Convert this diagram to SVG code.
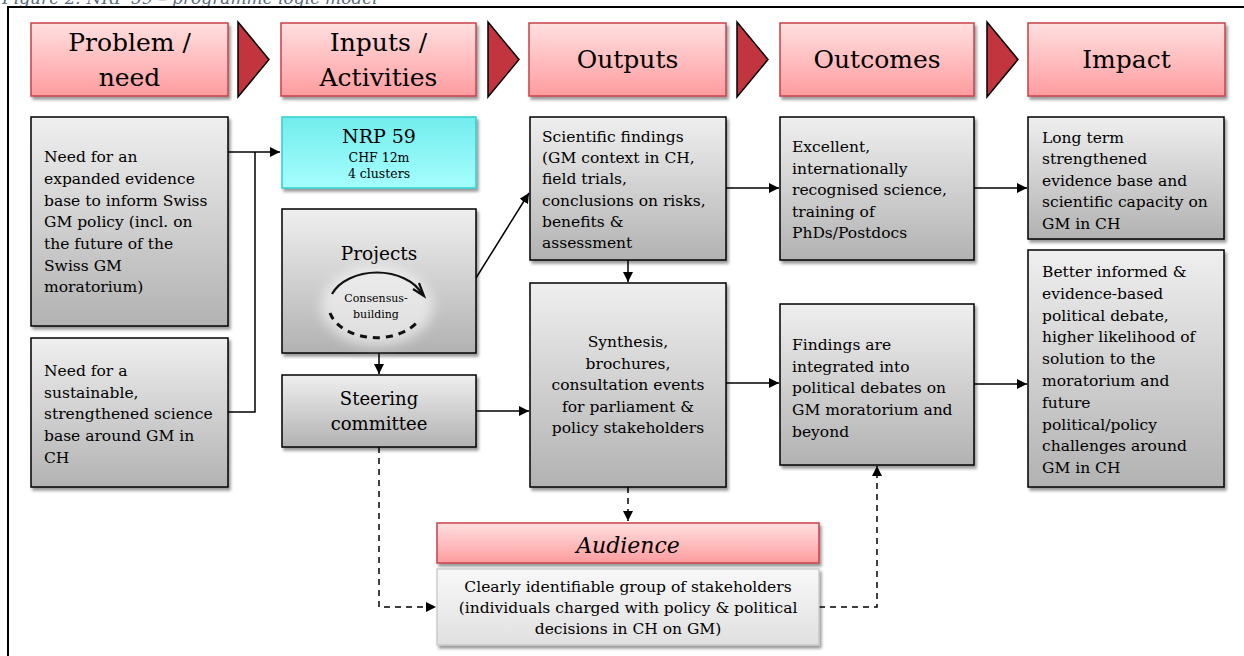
<svg xmlns="http://www.w3.org/2000/svg" width="1244" height="656" viewBox="0 0 1244 656">
  <defs>
    <linearGradient id="gHead" x1="0" y1="0" x2="0" y2="1">
      <stop offset="0" stop-color="#ffe0e0"/>
      <stop offset="1" stop-color="#ff9c9f"/>
    </linearGradient>
    <linearGradient id="gBox" x1="0" y1="0" x2="0" y2="1">
      <stop offset="0" stop-color="#efefef"/>
      <stop offset="1" stop-color="#b2b2b2"/>
    </linearGradient>
    <linearGradient id="gCyan" x1="0" y1="0" x2="0" y2="1">
      <stop offset="0" stop-color="#72ecec"/>
      <stop offset="1" stop-color="#a6fefe"/>
    </linearGradient>
    <linearGradient id="gLight" x1="0" y1="0" x2="0" y2="1">
      <stop offset="0" stop-color="#f8f8f8"/>
      <stop offset="1" stop-color="#e0e0e0"/>
    </linearGradient>
    <filter id="shadow" x="-10%" y="-10%" width="130%" height="130%">
      <feDropShadow dx="2" dy="3" stdDeviation="1.6" flood-color="#000" flood-opacity="0.4"/>
    </filter>
    <filter id="haze" x="-30%" y="-30%" width="160%" height="160%">
      <feGaussianBlur stdDeviation="6"/>
    </filter>
    <marker id="arr" viewBox="0 0 10 10" refX="10" refY="5" markerWidth="10" markerHeight="10" markerUnits="userSpaceOnUse" orient="auto">
      <path d="M0,0 L10,5 L0,10 z" fill="#000"/>
    </marker>
    <style>
      text { font-family: "DejaVu Serif", "Liberation Serif", serif; fill: #000; }
      .head { fill: url(#gHead); stroke: #c8424a; stroke-width: 1.5; filter: url(#shadow); }
      .ht { font-size: 25px; text-anchor: middle; }
      .chev { fill: #c2343e; stroke: #000; stroke-width: 1.5; stroke-linejoin: miter; }
      .box { fill: url(#gBox); stroke: #000; stroke-width: 1.5; filter: url(#shadow); }
      .bt { font-size: 15.5px; }
      .mid { text-anchor: middle; }
      .line { fill: none; stroke: #000; stroke-width: 1.5; }
      .dash { fill: none; stroke: #000; stroke-width: 1.5; stroke-dasharray: 6 5; }
    </style>
  </defs>

  <rect width="1244" height="656" fill="#fff"/>

  <!-- caption above the frame -->
  <text x="2" y="4" font-size="17" font-style="italic" style="fill:#5a6c7e">Figure 2: NRP 59 – programme logic model</text>

  <!-- outer frame -->
  <rect x="8" y="7" width="1250" height="660" fill="none" stroke="#000" stroke-width="2"/>

  <!-- column headers -->
  <g id="h-problem">
    <rect class="head" x="31" y="23" width="197" height="73"/>
    <text class="ht" x="129.5" y="50.5">Problem /</text>
    <text class="ht" x="129.5" y="86">need</text>
  </g>
  <g id="h-inputs">
    <rect class="head" x="281" y="23" width="195" height="73"/>
    <text class="ht" x="378.5" y="50.5">Inputs /</text>
    <text class="ht" x="378.5" y="86">Activities</text>
  </g>
  <g id="h-outputs">
    <rect class="head" x="529" y="23" width="197" height="73"/>
    <text class="ht" x="627.5" y="68">Outputs</text>
  </g>
  <g id="h-outcomes">
    <rect class="head" x="780" y="23" width="194" height="73"/>
    <text class="ht" x="877" y="68">Outcomes</text>
  </g>
  <g id="h-impact">
    <rect class="head" x="1028" y="23" width="197" height="73"/>
    <text class="ht" x="1126.5" y="68">Impact</text>
  </g>

  <!-- chevrons between headers -->
  <g id="chevrons">
    <path class="chev" d="M238,22 L269,59.5 L238,97 Z"/>
    <path class="chev" d="M488,22 L519,59.5 L488,97 Z"/>
    <path class="chev" d="M737,22 L768,59.5 L737,97 Z"/>
    <path class="chev" d="M987,22 L1018,59.5 L987,97 Z"/>
  </g>

  <!-- connectors -->
  <g id="connectors">
    <path class="line" d="M228,152 H280" marker-end="url(#arr)"/>
    <path class="line" d="M228,412 H255 V152"/>
    <path class="line" d="M379,353 V374" marker-end="url(#arr)"/>
    <path class="line" d="M476,278 L529,193" marker-end="url(#arr)"/>
    <path class="line" d="M476,411 H529" marker-end="url(#arr)"/>
    <path class="line" d="M628,260 V282" marker-end="url(#arr)"/>
    <path class="line" d="M726,188 H779" marker-end="url(#arr)"/>
    <path class="line" d="M974,188 H1027" marker-end="url(#arr)"/>
    <path class="line" d="M726,383 H779" marker-end="url(#arr)"/>
    <path class="line" d="M974,384 H1027" marker-end="url(#arr)"/>
    <path class="dash" d="M628,487 V521" marker-end="url(#arr)"/>
    <path class="dash" d="M379,447 V607 H436" marker-end="url(#arr)"/>
    <path class="dash" d="M819,607 H877 V466" marker-end="url(#arr)"/>
  </g>

  <!-- problem / need -->
  <g id="need-evidence">
    <rect class="box" x="31" y="117" width="197" height="209"/>
    <text class="bt" x="44" y="162">Need for an</text>
    <text class="bt" x="44" y="184">expanded evidence</text>
    <text class="bt" x="44" y="205.5">base to inform Swiss</text>
    <text class="bt" x="44" y="227">GM policy (incl. on</text>
    <text class="bt" x="44" y="249">the future of the</text>
    <text class="bt" x="44" y="270.5">Swiss GM</text>
    <text class="bt" x="44" y="292">moratorium)</text>
  </g>
  <g id="need-science">
    <rect class="box" x="31" y="338" width="197" height="149"/>
    <text class="bt" x="44" y="376">Need for a</text>
    <text class="bt" x="44" y="397.5">sustainable,</text>
    <text class="bt" x="44" y="419">strengthened science</text>
    <text class="bt" x="44" y="441">base around GM in</text>
    <text class="bt" x="44" y="462.5">CH</text>
  </g>

  <!-- inputs / activities -->
  <g id="nrp59">
    <rect x="282" y="117" width="194" height="71" fill="url(#gCyan)" stroke="#2fd0d0" stroke-width="1.5" filter="url(#shadow)"/>
    <text class="mid" x="379" y="143" font-size="19">NRP 59</text>
    <text class="mid" x="379" y="161.5" font-size="12.5">CHF 12m</text>
    <text class="mid" x="379" y="177.5" font-size="12.5">4 clusters</text>
  </g>
  <g id="projects">
    <rect class="box" x="282" y="209" width="194" height="144"/>
    <text class="mid" x="379" y="260" font-size="18.5">Projects</text>
    <ellipse cx="377" cy="306" rx="56" ry="40" fill="#fff" opacity="0.55" filter="url(#haze)"/>
    <path d="M332,294 A48,33 0 0 1 422,294" fill="none" stroke="#111" stroke-width="2.2"/>
    <path d="M413,289 L424,296 L419,283" fill="none" stroke="#111" stroke-width="2.2"/>
    <path d="M330,313 A48,33 0 0 0 419,320" fill="none" stroke="#111" stroke-width="3" stroke-dasharray="7 6"/>
    <text class="mid" x="376" y="302" font-size="11">Consensus-</text>
    <text class="mid" x="376" y="318" font-size="11">building</text>
  </g>
  <g id="steering">
    <rect class="box" x="282" y="375" width="194" height="72"/>
    <text class="mid" x="379" y="405" font-size="18">Steering</text>
    <text class="mid" x="379" y="430" font-size="18">committee</text>
  </g>

  <!-- outputs -->
  <g id="findings">
    <rect class="box" x="530" y="117" width="196" height="143"/>
    <text class="bt" x="542" y="141.5">Scientific findings</text>
    <text class="bt" x="542" y="163">(GM context in CH,</text>
    <text class="bt" x="542" y="184">field trials,</text>
    <text class="bt" x="542" y="205.5">conclusions on risks,</text>
    <text class="bt" x="542" y="227">benefits &amp;</text>
    <text class="bt" x="542" y="248">assessment</text>
  </g>
  <g id="synthesis">
    <rect class="box" x="530" y="283" width="196" height="204"/>
    <text class="bt mid" x="628" y="347">Synthesis,</text>
    <text class="bt mid" x="628" y="368.5">brochures,</text>
    <text class="bt mid" x="628" y="390">consultation events</text>
    <text class="bt mid" x="628" y="411.5">for parliament &amp;</text>
    <text class="bt mid" x="628" y="433">policy stakeholders</text>
  </g>

  <!-- outcomes -->
  <g id="excellent">
    <rect class="box" x="780" y="117" width="194" height="143"/>
    <text class="bt" x="792" y="152">Excellent,</text>
    <text class="bt" x="792" y="173.5">internationally</text>
    <text class="bt" x="792" y="195">recognised science,</text>
    <text class="bt" x="792" y="216.5">training of</text>
    <text class="bt" x="792" y="238">PhDs/Postdocs</text>
  </g>
  <g id="integrated">
    <rect class="box" x="780" y="304" width="194" height="161"/>
    <text class="bt" x="792" y="350">Findings are</text>
    <text class="bt" x="792" y="371.5">integrated into</text>
    <text class="bt" x="792" y="393">political debates on</text>
    <text class="bt" x="792" y="415">GM moratorium and</text>
    <text class="bt" x="792" y="436.5">beyond</text>
  </g>

  <!-- impact -->
  <g id="long-term">
    <rect class="box" x="1028" y="117" width="196" height="122"/>
    <text class="bt" x="1042" y="142.5">Long term</text>
    <text class="bt" x="1042" y="164">strengthened</text>
    <text class="bt" x="1042" y="185.5">evidence base and</text>
    <text class="bt" x="1042" y="207">scientific capacity on</text>
    <text class="bt" x="1042" y="229">GM in CH</text>
  </g>
  <g id="better-informed">
    <rect class="box" x="1028" y="250" width="196" height="237"/>
    <text class="bt" x="1042" y="277">Better informed &amp;</text>
    <text class="bt" x="1042" y="298.8">evidence-based</text>
    <text class="bt" x="1042" y="320.6">political debate,</text>
    <text class="bt" x="1042" y="342.4">higher likelihood of</text>
    <text class="bt" x="1042" y="364.2">solution to the</text>
    <text class="bt" x="1042" y="386">moratorium and</text>
    <text class="bt" x="1042" y="407.8">future</text>
    <text class="bt" x="1042" y="429.6">political/policy</text>
    <text class="bt" x="1042" y="451.4">challenges around</text>
    <text class="bt" x="1042" y="473">GM in CH</text>
  </g>

  <!-- audience -->
  <g id="audience">
    <rect class="head" x="437" y="523" width="382" height="40"/>
    <text class="mid" x="628" y="553" font-size="22" font-style="italic">Audience</text>
  </g>
  <g id="stakeholders">
    <rect x="437" y="569" width="382" height="76" fill="url(#gLight)" stroke="#c4c4c4" stroke-width="1.2" filter="url(#shadow)"/>
    <text class="bt mid" x="628" y="592">Clearly identifiable group of stakeholders</text>
    <text class="bt mid" x="628" y="613">(individuals charged with policy &amp; political</text>
    <text class="bt mid" x="628" y="634">decisions in CH on GM)</text>
  </g>
</svg>
